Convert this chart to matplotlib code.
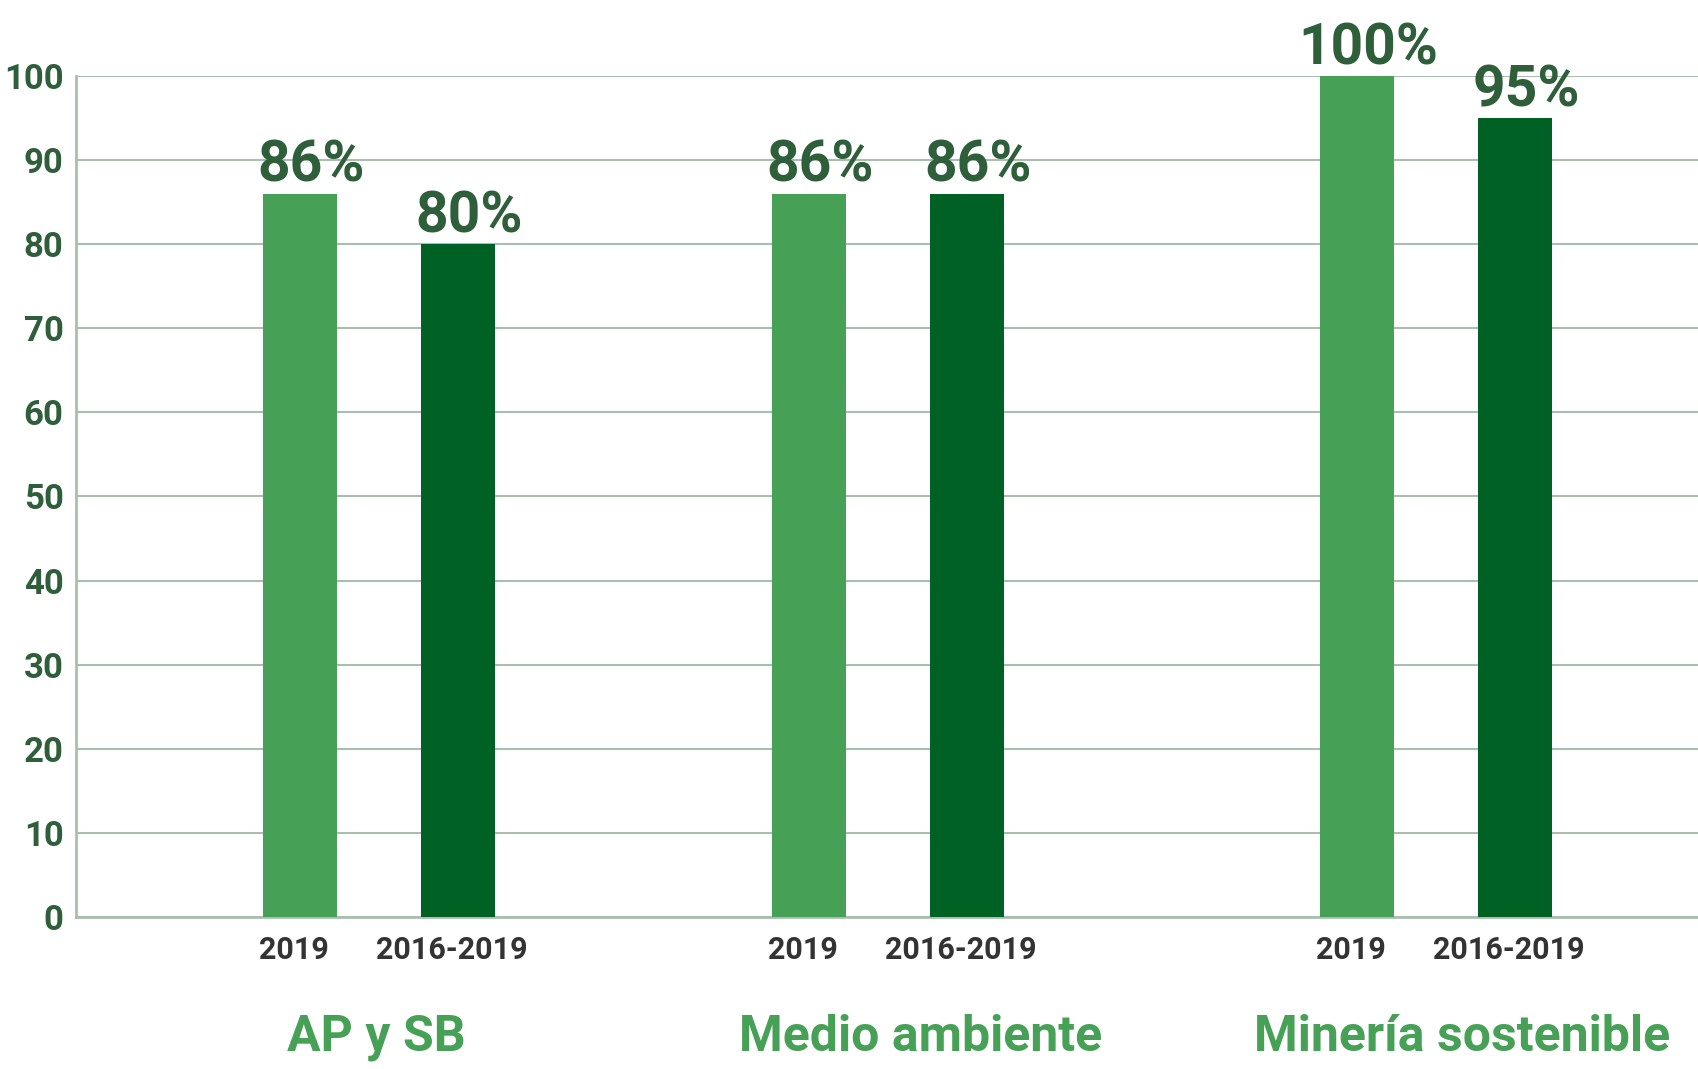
import matplotlib
matplotlib.use('Agg')
from matplotlib.pyplot import *

groups = ['AP y SB', 'Medio ambiente', 'Minería sostenible']
periods = ['2019', '2016-2019']
vals_2019 = [86, 86, 100]
vals_2016_2019 = [80, 86, 95]
labels_2019 = ['86%', '86%', '100%']
labels_2016_2019 = ['80%', '86%', '95%']

light = '#46A055'
dark = '#006124'
lab_col = '#2E5E3A'
grid_col = '#A9BFAE'

rcParams['font.family'] = ['Roboto', 'DejaVu Sans']
rcParams['font.weight'] = 'bold'

fig = figure(figsize=(16.98, 10.69), dpi=100)
ax = fig.add_axes([0.0448, 0.1422, 0.9552, 0.7867])

centers = [303, 812, 1360]
off = 79
w = 74
x1 = [c - off for c in centers]
x2 = [c + off for c in centers]

b1 = ax.bar(x1, vals_2019, w, color=light, zorder=3)
b2 = ax.bar(x2, vals_2016_2019, w, color=dark, zorder=3)

for bars, labs in ((b1, labels_2019), (b2, labels_2016_2019)):
    for r, l in zip(bars, labs):
        ax.annotate(l, (r.get_x() + r.get_width() / 2, r.get_height()),
                    xytext=(8, 0), textcoords='offset points',
                    ha='center', va='bottom', fontsize=41, fontweight='bold',
                    color=lab_col, zorder=4, annotation_clip=False)

ax.set_xlim(0, 1622)
ax.set_ylim(0, 100)
ax.set_yticks(range(0, 101, 10))
ax.tick_params(axis='y', length=0, pad=9, labelsize=25, labelcolor=lab_col)
ax.grid(axis='y', color=grid_col, linewidth=1.5, zorder=0)

ax.set_xticks([x - 6 for x in x1 + x2])
ax.set_xticklabels([periods[0]] * 3 + [periods[1]] * 3)
ax.tick_params(axis='x', length=0, pad=13, labelsize=22, labelcolor='#333333')

for s in ['top', 'right']:
    ax.spines[s].set_visible(False)
for s in ['left', 'bottom']:
    ax.spines[s].set_color(grid_col)
    ax.spines[s].set_linewidth(2)

group_x = [300, 845, 1386]
for gx, g in zip(group_x, groups):
    ax.text(gx, -0.143, g, transform=ax.get_xaxis_transform(), ha='center', va='center',
            fontsize=36, fontweight='bold', color=light)

savefig('out.png', dpi=100)
